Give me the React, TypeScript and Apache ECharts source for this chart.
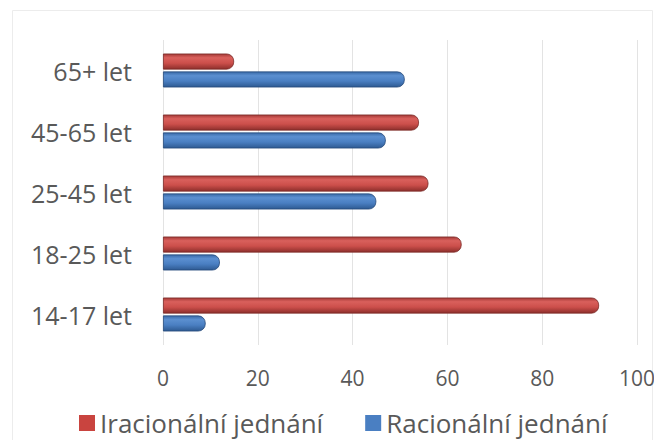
import React, { useEffect, useRef } from "react";
import * as echarts from "echarts";

const categories = ["14-17 let", "18-25 let", "25-45 let", "45-65 let", "65+ let"];
const irrational = [92, 63, 56, 54, 15];
const rational = [9, 12, 45, 47, 51];
const xTicks = [0, 20, 40, 60, 80, 100];

const FONT = "'Open Sans', 'Liberation Sans', sans-serif";

export default function App() {
  const ref = useRef<HTMLDivElement>(null);
  useEffect(() => {
    if (!ref.current) return;
    const chart = echarts.init(ref.current, undefined, { renderer: "svg" });
    const redGrad = new echarts.graphic.LinearGradient(0, 0, 0, 1, [
      { offset: 0, color: "#a53a37" },
      { offset: 0.25, color: "#d9605c" },
      { offset: 0.6, color: "#cc4f4b" },
      { offset: 1, color: "#8e2f2c" },
    ]);
    const blueGrad = new echarts.graphic.LinearGradient(0, 0, 0, 1, [
      { offset: 0, color: "#3a6aa8" },
      { offset: 0.25, color: "#5b8fd0" },
      { offset: 0.6, color: "#4a7fc2" },
      { offset: 1, color: "#2e5a92" },
    ]);
    chart.setOption({
      animation: false,
      backgroundColor: "#ffffff",
      textStyle: { fontFamily: FONT },
      graphic: [
        {
          type: "rect",
          shape: { x: 12.5, y: 10.5, width: 640, height: 460 },
          style: { fill: "none", stroke: "#ececec", lineWidth: 1 },
          silent: true,
        },
      ],
      legend: {
        top: 405,
        left: 74,
        itemWidth: 16,
        itemHeight: 16,
        itemGap: 42,
        icon: "rect",
        textStyle: { fontSize: 26, color: "#595959", fontFamily: FONT },
        data: [
          { name: "Iracionální jednání", itemStyle: { color: "#c9443f", borderWidth: 0 } },
          { name: "Racionální jednání", itemStyle: { color: "#4a7fc2", borderWidth: 0 } },
        ],
      },
      grid: { left: 163, right: 25, top: 40, bottom: 103 },
      xAxis: {
        type: "value",
        min: xTicks[0],
        max: xTicks[xTicks.length - 1],
        interval: 20,
        axisLine: { show: false },
        axisTick: { show: false },
        axisLabel: { fontSize: 21, color: "#595959", margin: 22, fontFamily: FONT },
        splitLine: { show: true, lineStyle: { color: "#e3e3e3", width: 1 } },
      },
      yAxis: {
        type: "category",
        data: categories,
        axisLine: { show: false },
        axisTick: { show: false },
        axisLabel: { fontSize: 25, color: "#595959", margin: 31, fontFamily: FONT },
      },
      series: [
        {
          name: "Iracionální jednání",
          type: "bar",
          data: irrational,
          barWidth: 16,
          barGap: "12%",
          itemStyle: {
            color: redGrad,
            borderColor: "#7a2826",
            borderWidth: 0.8,
            borderRadius: [0, 7, 7, 0],
          },
        },
        {
          name: "Racionální jednání",
          type: "bar",
          data: rational,
          barWidth: 16,
          barGap: "12%",
          itemStyle: {
            color: blueGrad,
            borderColor: "#24497a",
            borderWidth: 0.8,
            borderRadius: [0, 7, 7, 0],
          },
        },
      ],
      color: ["#c0504d", "#4f81bd"],
    });
    return () => chart.dispose();
  }, []);
  return <div ref={ref} style={{ width: 662, height: 448, margin: -8 }} />;
}
